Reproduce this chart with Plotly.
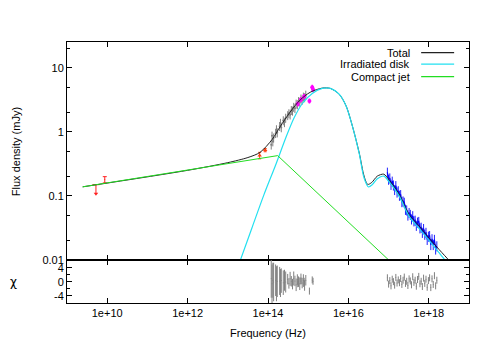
import numpy as np
import plotly.graph_objects as go
from plotly.subplots import make_subplots

# all values: log10(nu / Hz) and log10(F / mJy)

# model components
jet_lognu = [9.39, 14.24, 17.0]
jet_logflux = [-0.858, -0.37, -2.0]

disk_lognu = [13.20, 13.60, 13.90, 14.20, 14.45, 14.65, 14.85, 15.10, 15.35, 15.55,
              15.77, 15.94, 16.10, 16.27, 16.39, 16.50, 16.60, 16.72, 16.88, 17.00,
              17.26, 17.51, 17.76, 18.01, 18.26, 18.50, 18.60]
disk_logflux = [-2.20, -1.50, -0.98, -0.50, -0.08, 0.22, 0.44, 0.60, 0.68, 0.68,
                0.59, 0.41, 0.09, -0.34, -0.72, -0.86, -0.82, -0.73, -0.69, -0.77,
                -1.00, -1.32, -1.51, -1.70, -1.89, -2.08, -2.16]

total_lognu = [9.39, 12.00, 13.00, 13.50, 13.80, 14.10, 14.30, 14.55, 14.80, 15.05,
               15.35, 15.55, 15.77, 15.94, 16.10, 16.27, 16.39, 16.48, 16.58, 16.72,
               16.88, 17.00, 17.26, 17.51, 17.76, 18.01, 18.26, 18.52, 18.60]
total_logflux = [-0.858, -0.60, -0.48, -0.40, -0.32, -0.12, 0.08, 0.31, 0.50, 0.62,
                 0.685, 0.68, 0.59, 0.41, 0.09, -0.33, -0.69, -0.82, -0.79, -0.69,
                 -0.66, -0.74, -0.97, -1.29, -1.47, -1.66, -1.84, -2.02, -2.09]

# radio (red)
radio_ul_nu = [5.25e9]
radio_ul_flux = [0.15]
radio_ul_arrow = [0.108]
radio_nu = [8.7e9]
radio_flux = [0.18]
radio_err = [0.02]

# mid-IR (orange)
ir_nu = [6.2e13, 8.5e13]
ir_flux = [0.43, 0.52]
ir_err = [0.05, 0.03]

# near-IR spectra (grey)
nir_lognu = [14.08, 14.10, 14.12, 14.14, 14.19, 14.21, 14.23, 14.29, 14.31, 14.33,
             14.38, 14.41, 14.44, 14.49, 14.52, 14.55, 14.58, 14.61, 14.64, 14.67,
             14.70, 14.73, 14.76, 14.79, 14.82, 14.85, 14.88, 14.91, 14.94]
nir_logflux = [-0.20, -0.06, -0.15, -0.09, -0.02, 0.04, -0.01, 0.09, 0.14, 0.07,
               0.18, 0.15, 0.22, 0.26, 0.29, 0.27, 0.34, 0.33, 0.39, 0.37,
               0.44, 0.43, 0.48, 0.47, 0.52, 0.50, 0.55, 0.54, 0.58]
nir_res = [1.0, -0.5, 0.5, 0.0, 0.5, -0.5, 0.2, 0.3, -0.3, 0.4,
           -0.2, 0.5, 0.0, 0.8, -0.4, 0.9, 0.2, -0.6, 1.0, 0.3,
           -0.8, 0.7, 0.1, -0.5, 0.9, -0.3, 0.4, -1.0, 0.5]
nir_res_err = [5.5, 5.5, 5.0, 5.5, 4.5, 5.0, 4.5, 4.0, 4.0, 3.5,
               3.5, 3.0, 3.0, 1.5, 1.5, 2.0, 1.5, 1.5, 2.0, 1.5,
               1.8, 1.5, 1.5, 1.8, 1.5, 1.5, 1.8, 1.5, 1.5]

# optical / UV photometry (magenta)
uv_lognu = [14.74, 14.82, 14.90, 15.03, 15.10, 15.12]
uv_flux = [2.75, 3.2, 3.6, 3.05, 5.0, 4.6]
uv_res = [-0.5, 0.3, 0.2, -2.6, 0.6, 0.2]

# X-ray spectrum (blue)
xray_lognu = [16.97, 17.00, 17.03, 17.06, 17.09, 17.12, 17.15, 17.18, 17.21, 17.24,
              17.27, 17.30, 17.33, 17.36, 17.39, 17.42, 17.45, 17.48, 17.51, 17.54,
              17.57, 17.60, 17.63, 17.66, 17.69, 17.72, 17.75, 17.78, 17.81, 17.84,
              17.87, 17.90, 17.93, 17.96, 17.99, 18.02, 18.05, 18.08, 18.11, 18.14,
              18.17, 18.20]
xray_logflux = [-0.63, -0.74, -0.72, -0.82, -0.77, -0.83, -0.90, -0.84, -0.94, -0.92,
                -0.99, -0.98, -1.09, -1.08, -1.10, -1.21, -1.22, -1.30, -1.26, -1.29,
                -1.36, -1.31, -1.39, -1.38, -1.46, -1.41, -1.40, -1.50, -1.49, -1.57,
                -1.51, -1.60, -1.57, -1.68, -1.63, -1.62, -1.76, -1.67, -1.76, -1.68,
                -1.83, -1.78]
xray_res = [1.2, -0.6, 0.4, -1.1, 0.8, 0.1, -0.9, 1.3, -0.3, 0.6,
            -0.2, 1.0, -0.7, 0.5, 1.4, -0.4, 0.2, -1.0, 0.9, 0.3,
            -0.8, 1.5, -0.1, 0.5, -1.2, 0.7, 1.6, -0.5, 0.2, -1.3,
            1.1, -0.4, 0.8, -1.5, 0.4, 1.2, -1.6, 0.9, -0.7, 1.8,
            -1.1, 0.5]

x_ticks = [1e10, 1e12, 1e14, 1e16, 1e18]
x_ticktext = ["1e+10", "1e+12", "1e+14", "1e+16", "1e+18"]


def lin(v):
    return 10 ** np.array(v)


FONT = "Liberation Sans, Arial, sans-serif"
C_TOTAL = "#222222"
C_DISK = "#22e0f0"
C_JET = "#22dd22"
C_GREY = "#808080"

fig = make_subplots(rows=2, cols=1, shared_xaxes=True, vertical_spacing=0,
                    row_heights=[0.835, 0.165])

# data, main panel
fig.add_trace(go.Scatter(x=lin(nir_lognu), y=lin(nir_logflux), mode="markers",
                         marker=dict(color=C_GREY, size=2),
                         error_y=dict(type="percent", value=16, color=C_GREY,
                                      thickness=1, width=0)), row=1, col=1)
fig.add_trace(go.Scatter(x=lin(xray_lognu), y=lin(xray_logflux), mode="lines",
                         line=dict(color="#0000ff", width=1.2),
                         error_y=dict(type="percent", value=18, color="#2020ff",
                                      thickness=1, width=0)), row=1, col=1)
fig.add_trace(go.Scatter(x=lin(uv_lognu), y=uv_flux, mode="markers",
                         marker=dict(color="#ff00ff", size=4),
                         error_y=dict(type="percent", value=9, color="#ff00ff",
                                      thickness=1.5, width=0)), row=1, col=1)
fig.add_trace(go.Scatter(x=radio_ul_nu, y=radio_ul_flux, mode="markers",
                         marker=dict(symbol="line-ew", size=5,
                                     line=dict(color="#ff2020", width=1)),
                         error_y=dict(type="data", array=[0],
                                      arrayminus=[radio_ul_flux[0] - radio_ul_arrow[0]],
                                      color="#ff2020", thickness=1, width=0)),
              row=1, col=1)
fig.add_trace(go.Scatter(x=radio_ul_nu, y=radio_ul_arrow, mode="markers",
                         marker=dict(symbol="triangle-down", size=4, color="#ff2020")),
              row=1, col=1)
fig.add_trace(go.Scatter(x=radio_nu, y=radio_flux, mode="markers",
                         marker=dict(size=1, color="#ff2020"),
                         error_y=dict(type="data", array=radio_err, color="#ff2020",
                                      thickness=1, width=2)), row=1, col=1)
fig.add_trace(go.Scatter(x=ir_nu, y=ir_flux, mode="markers",
                         marker=dict(symbol="triangle-up", size=4, color="#ff4010"),
                         error_y=dict(type="data", array=ir_err, color="#ff4010",
                                      thickness=1, width=1.5)), row=1, col=1)

# models: total below, jet on top (as in the original)
fig.add_trace(go.Scatter(x=lin(total_lognu), y=lin(total_logflux), mode="lines",
                         line=dict(color=C_TOTAL, width=1, shape="spline",
                                   smoothing=0.8)), row=1, col=1)
fig.add_trace(go.Scatter(x=lin(disk_lognu), y=lin(disk_logflux), mode="lines",
                         line=dict(color=C_DISK, width=1.2, shape="spline",
                                   smoothing=0.8)), row=1, col=1)
fig.add_trace(go.Scatter(x=lin(jet_lognu), y=lin(jet_logflux), mode="lines",
                         line=dict(color=C_JET, width=1)), row=1, col=1)

# residuals
fig.add_hline(y=0, line=dict(color="black", width=1), row=2, col=1)
fig.add_trace(go.Scatter(x=lin(nir_lognu), y=nir_res, mode="markers",
                         marker=dict(size=1, color=C_GREY),
                         error_y=dict(type="data", array=nir_res_err, color=C_GREY,
                                      thickness=1, width=0)), row=2, col=1)
fig.add_trace(go.Scatter(x=lin(uv_lognu), y=uv_res, mode="markers",
                         marker=dict(size=1, color=C_GREY),
                         error_y=dict(type="constant", value=1, color=C_GREY,
                                      thickness=1, width=0)), row=2, col=1)
fig.add_trace(go.Scatter(x=lin(xray_lognu), y=xray_res, mode="markers",
                         marker=dict(size=1, color=C_GREY),
                         error_y=dict(type="constant", value=1, color=C_GREY,
                                      thickness=1, width=0)), row=2, col=1)

axis_style = dict(showline=True, linecolor="black", linewidth=1, mirror="allticks",
                  ticks="inside", ticklen=5, tickcolor="black", showgrid=False,
                  zeroline=False, tickfont=dict(family=FONT, size=11, color="black"))

fig.update_xaxes(type="log", range=[9, 19], tickvals=x_ticks, ticktext=x_ticktext,
                 **axis_style)
fig.update_xaxes(showticklabels=False, row=1, col=1)
fig.update_yaxes(type="log", range=[-2, 1.405], tickvals=[0.01, 0.1, 1, 10],
                 ticktext=["0.01", "0.1", "1", "10"],
                 minor=dict(ticks="inside", ticklen=3, tickcolor="black", dtick="D2",
                            showgrid=False),
                 row=1, col=1, **axis_style)
fig.update_yaxes(range=[-6, 6.3], tickvals=[-4, 0, 4], ticktext=["-4", "0", "4"],
                 minor=dict(ticks="inside", ticklen=3, tickcolor="black", dtick=2,
                            showgrid=False),
                 row=2, col=1, **axis_style)

# gnuplot-style key: text right-aligned, line sample on the right
key = [("Total", C_TOTAL, 0.959), ("Irradiated disk", C_DISK, 0.915),
       ("Compact jet", C_JET, 0.867)]
for label, color, ky in key:
    fig.add_annotation(x=0.857, y=ky, xref="paper", yref="paper", text=label,
                       showarrow=False, xanchor="right", yanchor="middle",
                       font=dict(family=FONT, size=11, color="black"))
    fig.add_shape(type="line", xref="paper", yref="paper", x0=0.881, x1=0.963,
                  y0=ky, y1=ky, line=dict(color=color, width=1.2))

fig.add_annotation(x=-0.128, y=0.58, xref="paper", yref="paper",
                   text="Flux density (mJy)", textangle=-90, showarrow=False,
                   xanchor="center", yanchor="middle",
                   font=dict(family=FONT, size=11, color="black"))
fig.add_annotation(x=-0.132, y=0.08, xref="paper", yref="paper", text="χ",
                   showarrow=False, xanchor="center", yanchor="middle",
                   font=dict(family="DejaVu Sans", size=12, color="black"))
fig.add_annotation(x=0.5, y=-0.114, xref="paper", yref="paper",
                   text="Frequency (Hz)", showarrow=False,
                   xanchor="center", yanchor="middle",
                   font=dict(family=FONT, size=11, color="black"))

# the page body adds 8px, so the margins are shifted by that much
fig.update_layout(width=491, height=342, showlegend=False,
                  margin=dict(l=59, r=30, t=34, b=47),
                  plot_bgcolor="white", paper_bgcolor="white",
                  font=dict(family=FONT, size=11, color="black"))

fig.write_html("out.html")
